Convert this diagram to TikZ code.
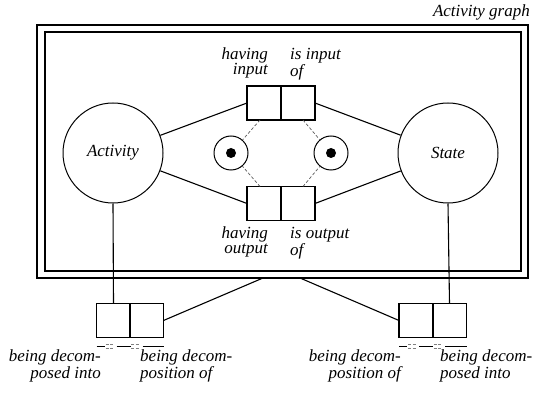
\documentclass[tikz,border=0pt]{standalone}
\usepackage{fontspec}
\setmainfont{Liberation Serif}
\begin{document}
\begin{tikzpicture}[x=1pt,y=-1pt,
  font=\itshape\fontsize{17}{15}\selectfont,
  half/.style={draw, line width=1.2pt, minimum width=34pt, minimum height=34pt, inner sep=0pt, outer sep=0pt},
  big/.style={circle, draw, line width=1pt, minimum size=100pt, inner sep=0pt},
  small/.style={circle, draw, line width=1pt, minimum size=34pt, inner sep=0pt},
  dot/.style={circle, fill, minimum size=10pt, inner sep=0pt},
  lblL/.style={inner sep=0pt, align=right, anchor=north east},
  lblR/.style={inner sep=0pt, align=left, anchor=north west},
  conn/.style={line width=1.1pt},
  dconn/.style={line width=0.7pt, gray!70!black, dash pattern=on 3pt off 2pt},
]
\useasboundingbox (0,0) rectangle (551,395);
% frames
\draw[line width=1.8pt] (37,25) rectangle (528,278);
\draw[line width=1.2pt] (45,32) rectangle (521,271);
\node[inner sep=0pt, anchor=base east] (title) at (530,17) {Activity graph};
\coordinate (fl) at (263,278);
\coordinate (fr) at (300,278);
% big circles
\node[big] (act) at (113,153) {Activity};
\node[big] (st) at (448,153) {State};
% top boxes
\node[half] (tL) at (264,103) {};
\node[half] (tR) at (298,103) {};
% bottom boxes
\node[half] (bL) at (264,203.5) {};
\node[half] (bR) at (298,203.5) {};
% small circles
\node[small] (cL) at (231,153) {};
\node[dot] (dL) at (cL) {};
\node[small] (cR) at (331,153) {};
\node[dot] (dR) at (cR) {};
% lower boxes
\node[half] (llL) at (113.5,320.5) {};
\node[half] (llR) at (146.5,320.5) {};
\node[half] (lrL) at (416,320.5) {};
\node[half] (lrR) at (449.5,320.5) {};
% labels
\node[lblL] (l1) at (268,48) {having\\input};
\node[lblR] (l2) at (290,48) {is input\\of};
\node[lblL] (l3) at (268,227) {having\\output};
\node[lblR] (l4) at (290,227) {is output\\of};
\node[lblL] (l5) at (101,350) {being decom-\\posed into};
\node[lblR] (l6) at (140,350) {being decom-\\position of};
\node[lblL] (l7) at (401,350) {being decom-\\position of};
\node[lblR] (l8) at (440,350) {being decom-\\posed into};
% connectors
\draw[conn] (act) -- (tL.west);
\draw[conn] (act) -- (bL.west);
\draw[conn] (st) -- (tR.east);
\draw[conn] (st) -- (bR.east);
\draw[dconn] ([xshift=-4pt]tL.south) -- (cL);
\draw[dconn] ([xshift=-4pt]bL.north) -- (cL);
\draw[dconn] ([xshift=5pt]tR.south) -- (cR);
\draw[dconn] ([xshift=5pt]bR.north) -- (cR);
\draw[conn] (act.south) -- (llL.north);
\draw[conn] (st.south) -- (lrR.north);
\draw[conn] (llR.east) -- (fl);
\draw[conn] (lrL.west) -- (fr);
% uniqueness bars
\foreach \a/\b in {llL/llR, lrL/lrR}{
  \draw[line width=1.5pt, dash pattern=on 8pt off 12pt on 14pt off 12pt on 30pt]
    ([yshift=-9pt]\a.south west) -- ([yshift=-9pt]\b.south east);
  \draw[gray, line width=0.8pt, dash pattern=on 0pt off 9pt on 3pt off 1.5pt on 3pt off 18pt on 3pt off 1.5pt on 3pt off 40pt]
    ([yshift=-7pt]\a.south west) -- ([yshift=-7pt]\b.south east);
  \draw[gray, line width=0.8pt, dash pattern=on 0pt off 9pt on 3pt off 1.5pt on 3pt off 18pt on 3pt off 1.5pt on 3pt off 40pt]
    ([yshift=-11pt]\a.south west) -- ([yshift=-11pt]\b.south east);
}
\end{tikzpicture}
\end{document}
